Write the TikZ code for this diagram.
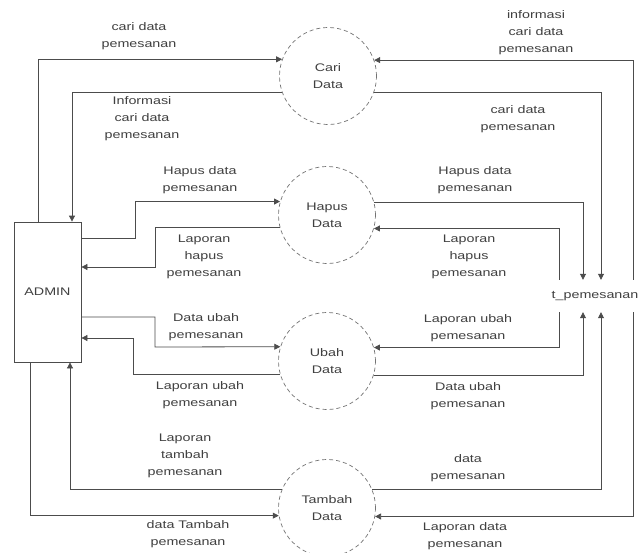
\documentclass[tikz,border=0pt]{standalone}
\usepackage{fontspec}
\setmainfont{Liberation Sans}[FakeStretch=1.3]
\usetikzlibrary{arrows.meta}
\begin{document}
\begin{tikzpicture}[x=1pt,y=-1pt,
  every node/.style={font=\fontsize{11}{17}\selectfont, text=black!75},
  proc/.style={circle, draw=black!55, dashed, dash pattern=on 4pt off 3pt, line width=0.7pt, minimum size=97pt, inner sep=0pt, align=center},
  ent/.style={rectangle, draw=black!70, line width=0.8pt, minimum width=67pt, minimum height=140pt, inner sep=0pt},
  store/.style={rectangle, inner sep=0pt, minimum width=82pt, minimum height=32pt},
  flow/.style={draw=black!70, line width=0.8pt, -{Triangle[width=6pt,length=6pt]}},
  lbl/.style={align=center, inner sep=0pt}]
\useasboundingbox (0,0) rectangle (640,552);
\fill[white] (0,0) rectangle (640,552);

% nodes
\node[ent] (admin) at (47.5,292) {ADMIN};
\node[proc] (cari) at (328,76) {Cari\\Data};
\node[proc] (hapus) at (327,215) {Hapus\\Data};
\node[proc] (ubah) at (327,361) {Ubah\\Data};
\node[proc] (tambah) at (327,508) {Tambah\\Data};
\node[store] (t) at (595,296) {t\_pemesanan};

% Cari Data
\draw[flow] (38,0 |- admin.north) |- (cari.160.5);
\draw[flow] (cari.199.5) -| (72,0 |- admin.north);
\draw[flow] (633,0 |- t.north) |- (cari.19.5);
\draw[flow] (cari.340.5) -| (601,0 |- t.north);

% Hapus Data
\draw[flow] (admin.east |- 0,238) -- (135,238) |- (hapus.164.6);
\draw[flow] (hapus.195.4) -| (155,267) -- (admin.east |- 0,267);
\draw[flow] (hapus.15.4) -| (583,0 |- t.north);
\draw[flow] (559,0 |- t.north) |- (hapus.344.6);

% Ubah Data
\draw[flow] (admin.east |- 0,317) -| (155,347) -- (ubah.163.4);
\draw[flow] (ubah.196.6) -| (133,338) -- (admin.east |- 0,338);
\draw[flow] (559,0 |- t.south) |- (ubah.16.6);
\draw[flow] (ubah.343.4) -| (583,0 |- t.south);

% Tambah Data
\draw[flow] (30,0 |- admin.south) |- (tambah.189.6);
\draw[flow] (tambah.158) -| (70,0 |- admin.south);
\draw[flow] (tambah.22) -| (601,0 |- t.south);
\draw[flow] (633,0 |- t.south) |- (tambah.350.4);

% labels left
\node[lbl] (l1) at (139,36) {cari data\\pemesanan};
\node[lbl] (l2) at (142,119) {Informasi\\cari data\\pemesanan};
\node[lbl] (l3) at (200,180) {Hapus data\\pemesanan};
\node[lbl] (l4) at (204,257) {Laporan\\hapus\\pemesanan};
\node[lbl] (l5) at (206,327) {Data ubah\\pemesanan};
\node[lbl] (l6) at (200,395) {Laporan ubah\\pemesanan};
\node[lbl] (l7) at (185,456) {Laporan\\tambah\\pemesanan};
\node[lbl] (l8) at (188,534) {data Tambah\\pemesanan};

% labels right
\node[lbl] (r1) at (536,33) {informasi\\cari data\\pemesanan};
\node[lbl] (r2) at (518,119) {cari data\\pemesanan};
\node[lbl] (r3) at (475,180) {Hapus data\\pemesanan};
\node[lbl] (r4) at (469,257) {Laporan\\hapus\\pemesanan};
\node[lbl] (r5) at (468,328) {Laporan ubah\\pemesanan};
\node[lbl] (r6) at (468,396) {Data ubah\\pemesanan};
\node[lbl] (r7) at (468,468) {data\\pemesanan};
\node[lbl] (r8) at (465,536) {Laporan data\\pemesanan};
\end{tikzpicture}
\end{document}
